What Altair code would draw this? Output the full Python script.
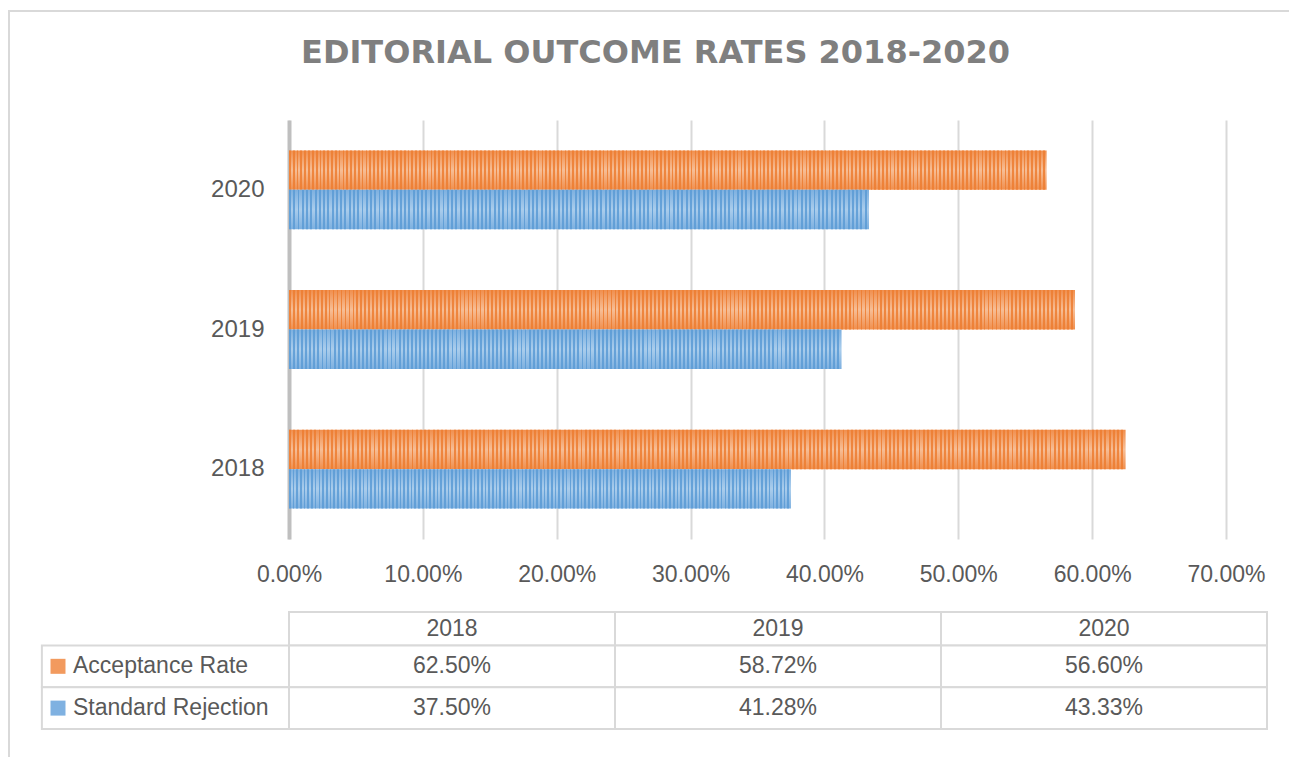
import altair as alt
import pandas as pd

# ---------------- data ----------------
years = ["2018", "2019", "2020"]
series = ["Acceptance Rate", "Standard Rejection"]
acceptance = [62.50, 58.72, 56.60]
rejection = [37.50, 41.28, 43.33]
x_ticks = [0, 10, 20, 30, 40, 50, 60, 70]
title_text = "EDITORIAL OUTCOME RATES 2018-2020"

# ---------------- styles ----------------
FONT = "Liberation Sans"
TXT = "#595959"
GRID = "#D9D9D9"
W, H = 937, 419

rows = []
for i, yr in enumerate(years):
    rows.append({"year": yr, "series": series[0], "value": acceptance[i]})
    rows.append({"year": yr, "series": series[1], "value": rejection[i]})
bars = pd.DataFrame(rows)


def vgrad(edge, mid):
    return {"gradient": "linear", "x1": 0, "x2": 0, "y1": 0, "y2": 1,
            "stops": [{"offset": 0, "color": edge}, {"offset": 0.5, "color": mid},
                      {"offset": 1, "color": edge}]}


def stripes(rgb, n, alpha):
    stops = []
    for i in range(n):
        a, b, c = i / n, (i + 0.45) / n, (i + 1) / n
        on, off = f"rgba({rgb},{alpha})", f"rgba({rgb},0)"
        stops += [{"offset": a, "color": on}, {"offset": b, "color": on},
                  {"offset": b, "color": off}, {"offset": c, "color": off}]
    return {"gradient": "linear", "x1": 0, "x2": 1, "y1": 0, "y2": 0, "stops": stops}


xscale = alt.Scale(domain=[0, 70], nice=False, zero=True)
xaxis = alt.Axis(values=x_ticks, labelExpr="format(datum.value, '.2f') + '%'",
                 title=None, grid=True, gridColor=GRID, gridWidth=2, domain=False,
                 ticks=False, labelFont=FONT, labelFontSize=23, labelColor=TXT,
                 labelPadding=24, labelFlush=False)
yscale = alt.Scale(domain=["2020", "2019", "2018"], paddingInner=0.435, paddingOuter=0.2175)
yaxis = alt.Axis(title=None, domain=True, domainColor="#BFBFBF", domainWidth=4,
                 ticks=False, grid=False, labelFont=FONT, labelFontSize=24,
                 labelColor=TXT, labelPadding=25)
yoff = alt.YOffset("series:N", scale=alt.Scale(domain=series, paddingInner=0, paddingOuter=0))

base = alt.Chart(bars).encode(
    x=alt.X("value:Q", scale=xscale, axis=xaxis),
    y=alt.Y("year:N", scale=yscale, axis=yaxis),
    yOffset=yoff,
)

acc_base = base.transform_filter(alt.datum.series == series[0]).mark_bar(
    fill=vgrad("#F08F4E", "#F7BE96"))
acc_str = base.transform_filter(alt.datum.series == series[0]).mark_bar(
    fill=stripes("237,125,49", 198, 0.85))
rej_base = base.transform_filter(alt.datum.series == series[1]).mark_bar(
    fill=vgrad("#7DB0E0", "#AACDEC"))
rej_str = base.transform_filter(alt.datum.series == series[1]).mark_bar(
    fill=stripes("91,155,213", 136, 0.85))

bar_layer = alt.layer(acc_base, acc_str, rej_base, rej_str)

# ---------------- data table under the chart ----------------
LABEL_W = -0.758   # label column left edge, in column units
HEAD_H = 0.8
cells = []
for i, yr in enumerate(years):
    cells.append({"x0": i, "x1": i + 1, "y0": 0, "y1": HEAD_H,
                  "xc": i + 0.5, "yc": HEAD_H / 2, "text": yr, "s": ""})
values_by_series = [acceptance, rejection]
for r, s in enumerate(series):
    y0 = HEAD_H + r
    cells.append({"x0": LABEL_W, "x1": 0, "y0": y0, "y1": y0 + 1,
                  "xc": LABEL_W, "yc": y0 + 0.5, "text": "", "s": s})
    for i, yr in enumerate(years):
        cells.append({"x0": i, "x1": i + 1, "y0": y0, "y1": y0 + 1,
                      "xc": i + 0.5, "yc": y0 + 0.5,
                      "text": f"{values_by_series[r][i]:.2f}%", "s": ""})
table = pd.DataFrame(cells)
labels = pd.DataFrame({"s": series, "yc": [HEAD_H + 0.5, HEAD_H + 1.5]})

tx = alt.Scale(domain=[0, 3], range=[0, 978], nice=False, zero=False)
ty = alt.Scale(domain=[0, HEAD_H + 2], range=[492, 609], nice=False, zero=False)

t_rect = alt.Chart(table).mark_rect(fill="white", stroke=GRID, strokeWidth=2).encode(
    x=alt.X("x0:Q", scale=tx, axis=None), x2="x1:Q",
    y=alt.Y("y0:Q", scale=ty, axis=None), y2="y1:Q")
t_text = alt.Chart(table).mark_text(font=FONT, fontSize=23, color=TXT).encode(
    x=alt.X("xc:Q", scale=tx, axis=None),
    y=alt.Y("yc:Q", scale=ty, axis=None), text="text:N")
t_sq = alt.Chart(labels).mark_square(size=225, opacity=1).encode(
    x=alt.value(-231),
    y=alt.Y("yc:Q", scale=ty, axis=None),
    color=alt.Color("s:N", scale=alt.Scale(domain=series, range=["#F29A5E", "#7FB1E1"]),
                    legend=None))
t_lab = alt.Chart(labels).mark_text(font=FONT, fontSize=23, color=TXT, align="left").encode(
    x=alt.value(-216),
    y=alt.Y("yc:Q", scale=ty, axis=None), text="s:N")

border = alt.Chart(pd.DataFrame({"k": [0]})).mark_rect(
    fill="transparent", stroke="#D9D9D9", strokeWidth=2).encode(
    x=alt.value(-280), x2=alt.value(1010), y=alt.value(-109), y2=alt.value(650))

table_layer = alt.layer(border, t_rect, t_text, t_sq, t_lab)

chart = alt.layer(bar_layer, table_layer).resolve_scale(
    x="independent", y="independent", color="independent"
).properties(
    width=W, height=H,
    autosize=alt.AutoSizeParams(type="none"),
    padding={"left": 289, "top": 120, "right": 63, "bottom": 218},
    title=alt.Title(title_text, font="DejaVu Sans", fontSize=32, fontWeight="bold",
                    color="#7F7F7F", anchor="middle", frame="group", dx=-102,
                    offset=-85, baseline="alphabetic"),
).configure_view(stroke=None)

chart.save("out.html", embed_options={"renderer": "svg", "actions": False})
